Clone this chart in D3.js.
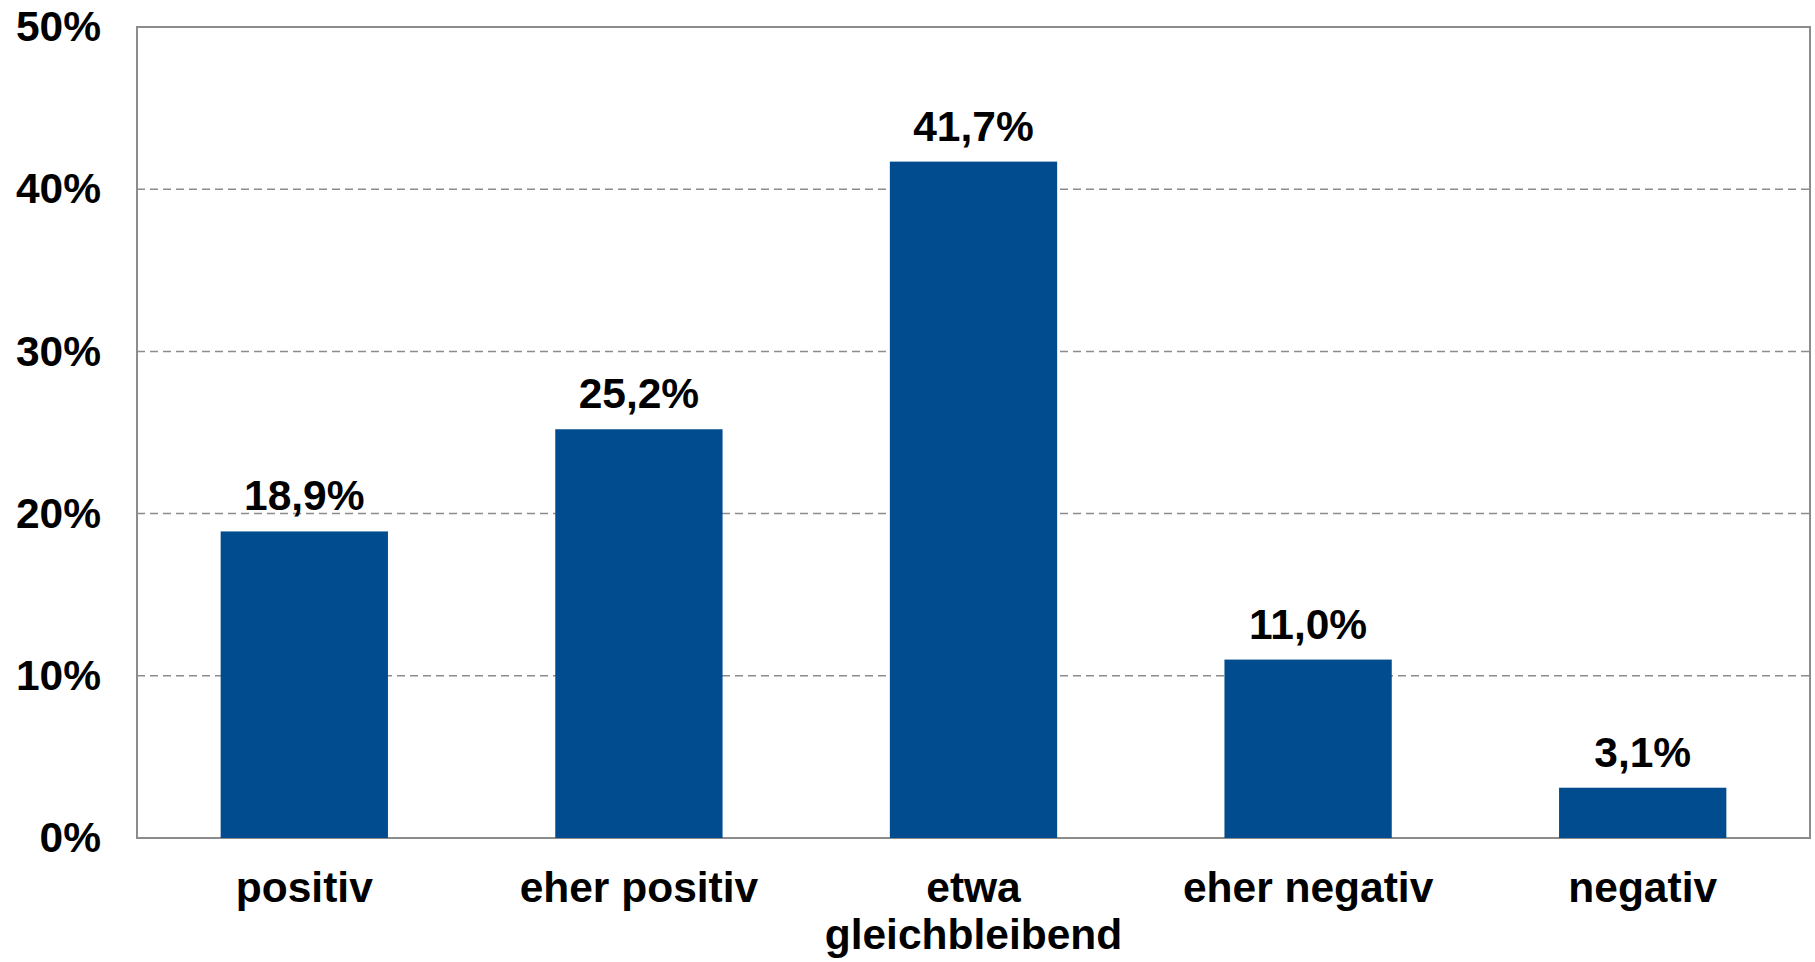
<!DOCTYPE html>
<html>
<head>
<meta charset="utf-8">
<script src="https://cdn.jsdelivr.net/npm/d3@7"></script>
<style>
  body { margin: 0; background: #fff; }
  text { font-family: "Liberation Sans", Arial, sans-serif; font-weight: bold; fill: #000; }
</style>
</head>
<body>
<div id="chart"></div>
<script>
// data
var categories = [["positiv"], ["eher positiv"], ["etwa", "gleichbleibend"], ["eher negativ"], ["negativ"]];
var values = [18.9, 25.2, 41.7, 11.0, 3.1];
var yTicks = [0, 10, 20, 30, 40, 50];

var W = 1815, H = 962;
var margin = {top: 27, right: 5, bottom: 124, left: 137},
    width = W - margin.left - margin.right,
    height = H - margin.top - margin.bottom;

var fontSize = "42.5px";

var svg = d3.select("#chart")
  .append("svg")
    .attr("width", W)
    .attr("height", H)
  .append("g")
    .attr("transform", "translate(" + margin.left + "," + margin.top + ")");

var keys = categories.map(function(d) { return d.join(" "); });

var x = d3.scaleBand()
  .domain(keys)
  .range([0, width])
  .paddingInner(0.5)
  .paddingOuter(0.25);

var y = d3.scaleLinear()
  .domain([0, 50])
  .range([height, 0]);

// gridlines (dashed)
svg.append("g")
  .selectAll("line")
  .data(yTicks.filter(function(t) { return t > 0 && t < 50; }))
  .enter()
  .append("line")
    .attr("x1", 0)
    .attr("x2", width)
    .attr("y1", function(d) { return y(d); })
    .attr("y2", function(d) { return y(d); })
    .style("stroke", "#8c8c8c")
    .style("stroke-width", 1.5)
    .style("stroke-dasharray", "8,5");

// plot frame
svg.append("rect")
  .attr("x", 0)
  .attr("y", 0)
  .attr("width", width)
  .attr("height", height)
  .style("fill", "none")
  .style("stroke", "#8c8c8c")
  .style("stroke-width", 2);

// y axis labels
var yAxis = svg.append("g")
  .call(d3.axisLeft(y).tickValues(yTicks).tickSize(0).tickPadding(36)
    .tickFormat(function(d) { return d + "%"; }));
yAxis.select(".domain").remove();
yAxis.selectAll("text")
  .style("font-size", fontSize)
  .style("font-family", "'Liberation Sans', Arial, sans-serif")
  .style("font-weight", "bold")
  .attr("fill", "#000");

// bars
svg.selectAll(".bar")
  .data(values)
  .enter()
  .append("rect")
    .attr("class", "bar")
    .attr("x", function(d, i) { return x(keys[i]); })
    .attr("y", function(d) { return y(d); })
    .attr("width", x.bandwidth())
    .attr("height", function(d) { return height - y(d); })
    .style("fill", "#004c8e");

// value labels
svg.selectAll(".val")
  .data(values)
  .enter()
  .append("text")
    .attr("class", "val")
    .attr("x", function(d, i) { return x(keys[i]) + x.bandwidth() / 2; })
    .attr("y", function(d) { return y(d) - 21; })
    .attr("text-anchor", "middle")
    .style("font-size", fontSize)
    .text(function(d) { return d.toFixed(1).replace(".", ",") + "%"; });

// category labels
var cat = svg.selectAll(".cat")
  .data(categories)
  .enter()
  .append("text")
    .attr("class", "cat")
    .attr("x", function(d, i) { return x(keys[i]) + x.bandwidth() / 2; })
    .attr("y", height + 64)
    .attr("text-anchor", "middle")
    .style("font-size", fontSize);

cat.selectAll("tspan")
  .data(function(d) { return d; })
  .enter()
  .append("tspan")
    .attr("x", function() { return d3.select(this.parentNode).attr("x"); })
    .attr("dy", function(d, i) { return i === 0 ? 0 : 47; })
    .text(function(d) { return d; });
</script>
</body>
</html>
